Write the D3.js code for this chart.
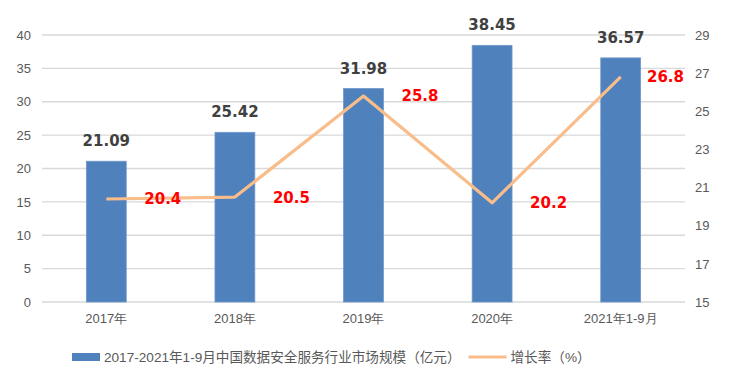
<!DOCTYPE html>
<html>
<head>
<meta charset="utf-8">
<script src="https://cdn.jsdelivr.net/npm/d3@7"></script>
<style>
  body { margin: 0; background: #fff; }
  svg { display: block; font-family: "Liberation Sans", "Noto Sans CJK SC", sans-serif; }
</style>
</head>
<body>
<svg id="chart"></svg>
<script>
const width = 746;
const height = 386;
const margin = { top: 35, right: 61, bottom: 84, left: 42 };

// data
const categories = ["2017年", "2018年", "2019年", "2020年", "2021年1-9月"];
const marketSize = [21.09, 25.42, 31.98, 38.45, 36.57];
const growthRate = [20.4, 20.5, 25.8, 20.2, 26.8];
const leftTicks = [0, 5, 10, 15, 20, 25, 30, 35, 40];
const rightTicks = [15, 17, 19, 21, 23, 25, 27, 29];
const barName = "2017-2021年1-9月中国数据安全服务行业市场规模（亿元）";
const lineName = "增长率（%）";

const svg = d3.select("#chart").attr("width", width).attr("height", height);

const x = d3
  .scaleBand()
  .domain(categories)
  .range([margin.left, width - margin.right])
  .paddingInner(0.69)
  .paddingOuter(0.345);

const yLeft = d3
  .scaleLinear()
  .domain([0, 40])
  .range([height - margin.bottom, margin.top]);

const yRight = d3
  .scaleLinear()
  .domain([15, 29])
  .range([height - margin.bottom, margin.top]);

// gridlines
svg
  .append("g")
  .selectAll("line")
  .data(leftTicks)
  .enter()
  .append("line")
  .attr("x1", margin.left)
  .attr("x2", width - margin.right)
  .attr("y1", (d) => yLeft(d))
  .attr("y2", (d) => yLeft(d))
  .style("stroke", "#d9d9d9")
  .style("stroke-width", 1.3);

// left axis
const leftAxis = svg
  .append("g")
  .attr("transform", `translate(${margin.left}, 0)`)
  .call(d3.axisLeft(yLeft).tickValues(leftTicks).tickSize(0).tickPadding(11));
leftAxis.select(".domain").remove();
leftAxis.selectAll("text").style("font-size", "13px").style("fill", "#595959");

// right axis
const rightAxis = svg
  .append("g")
  .attr("transform", `translate(${width - margin.right}, 0)`)
  .call(d3.axisRight(yRight).tickValues(rightTicks).tickSize(0).tickPadding(10));
rightAxis.select(".domain").remove();
rightAxis.selectAll("text").style("font-size", "13px").style("fill", "#595959");

// bars
svg
  .selectAll("rect.bar")
  .data(marketSize)
  .enter()
  .append("rect")
  .attr("class", "bar")
  .attr("x", (d, i) => x(categories[i]))
  .attr("y", (d) => yLeft(d))
  .attr("width", x.bandwidth())
  .attr("height", (d) => yLeft(0) - yLeft(d))
  .style("fill", "#4f81bd")
  .style("stroke", "#6f98cc")
  .style("stroke-width", 0.8);

// bottom axis
const bottomAxis = svg
  .append("g")
  .attr("transform", `translate(0, ${height - margin.bottom})`)
  .call(d3.axisBottom(x).tickSize(0).tickPadding(12));
bottomAxis.select(".domain").remove();
bottomAxis.selectAll("text").style("font-size", "13px").style("fill", "#595959");

// growth line
const line = d3
  .line()
  .x((d, i) => x(categories[i]) + x.bandwidth() / 2)
  .y((d) => yRight(d));

svg
  .append("path")
  .datum(growthRate)
  .attr("d", line)
  .style("fill", "none")
  .style("stroke", "#f8bd8b")
  .style("stroke-width", 3.2)
  .style("stroke-linejoin", "round");

// bar labels
svg
  .selectAll("text.bar-label")
  .data(marketSize)
  .enter()
  .append("text")
  .attr("class", "bar-label")
  .attr("x", (d, i) => x(categories[i]) + x.bandwidth() / 2)
  .attr("y", (d) => yLeft(d) - 15)
  .attr("text-anchor", "middle")
  .text((d) => d.toFixed(2))
  .style("font-family", "DejaVu Sans")
  .style("font-weight", "bold")
  .style("font-size", "15px")
  .style("fill", "#404040");

// growth labels, to the right of each point but kept inside the plot
svg
  .selectAll("text.rate-label")
  .data(growthRate)
  .enter()
  .append("text")
  .attr("class", "rate-label")
  .attr("y", (d) => yRight(d))
  .attr("dy", "0.36em")
  .text((d) => d.toFixed(1))
  .style("font-family", "DejaVu Sans")
  .style("font-weight", "bold")
  .style("font-size", "15px")
  .style("fill", "#ff0000")
  .attr("x", function (d, i) {
    const w = this.getComputedTextLength();
    const px = x(categories[i]) + x.bandwidth() / 2 + 38;
    return Math.min(px, width - margin.right - w - 1);
  });

// legend
const legend = svg.append("g").attr("transform", "translate(72, 357)");
legend
  .append("rect")
  .attr("x", 0)
  .attr("y", -4)
  .attr("width", 28)
  .attr("height", 8)
  .style("fill", "#4f81bd");
const barText = legend
  .append("text")
  .attr("x", 32)
  .attr("dy", "0.35em")
  .text(barName)
  .style("font-size", "13.6px")
  .style("fill", "#595959");
const lx = 32 + barText.node().getComputedTextLength() + 8;
legend
  .append("line")
  .attr("x1", lx)
  .attr("x2", lx + 38)
  .style("stroke", "#f8bd8b")
  .style("stroke-width", 3.2);
legend
  .append("text")
  .attr("x", lx + 42)
  .attr("dy", "0.35em")
  .text(lineName)
  .style("font-size", "13.6px")
  .style("fill", "#595959");
</script>
</body>
</html>
